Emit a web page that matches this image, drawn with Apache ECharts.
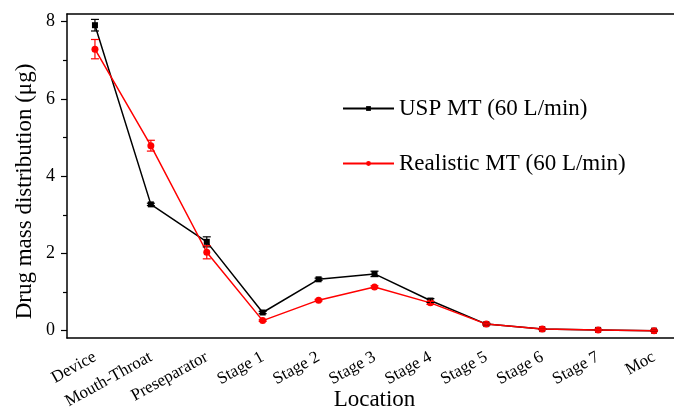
<!DOCTYPE html>
<html>
<head>
<meta charset="utf-8">
<script src="https://cdn.jsdelivr.net/npm/echarts@6/dist/echarts.min.js"></script>
<style>
  html, body { margin: 0; padding: 0; background: #fff; }
  #main { width: 674px; height: 412px; }
</style>
</head>
<body>
<div id="main"></div>
<script>
// categories along the impactor
var locations = ['Device', 'Mouth-Throat', 'Preseparator', 'Stage 1', 'Stage 2', 'Stage 3',
                 'Stage 4', 'Stage 5', 'Stage 6', 'Stage 7', 'Moc'];

// mean deposited mass (ug)
var uspValues = [7.91, 3.27, 2.30, 0.47, 1.33, 1.47, 0.78, 0.17, 0.04, 0.02, 0.00];
var realValues = [7.29, 4.79, 2.03, 0.26, 0.79, 1.13, 0.72, 0.17, 0.04, 0.02, 0.00];

// +/- error (ug)
var uspErr = [0.15, 0.03, 0.13, 0.03, 0.03, 0.07, 0.05, 0.02, 0.01, 0.01, 0.01];
var realErr = [0.25, 0.14, 0.17, 0.02, 0.02, 0.03, 0.04, 0.02, 0.01, 0.01, 0.01];

var yMajor = [0, 2, 4, 6, 8];
var yMinor = [1, 3, 5, 7];

var FONT = '"Liberation Serif", "DejaVu Serif", serif';

function errData(vals, errs) {
    var out = [];
    for (var i = 0; i < vals.length; i++) {
        out.push([i, vals[i] - errs[i], vals[i] + errs[i]]);
    }
    return out;
}

function errRenderer(color) {
    return function (params, api) {
        var lo = api.coord([api.value(0), api.value(1)]);
        var hi = api.coord([api.value(0), api.value(2)]);
        var w = 4;
        var st = { stroke: color, lineWidth: 1.2 };
        return {
            type: 'group',
            children: [
                { type: 'line', shape: { x1: lo[0], y1: lo[1], x2: hi[0], y2: hi[1] }, style: st },
                { type: 'line', shape: { x1: lo[0] - w, y1: lo[1], x2: lo[0] + w, y2: lo[1] }, style: st },
                { type: 'line', shape: { x1: hi[0] - w, y1: hi[1], x2: hi[0] + w, y2: hi[1] }, style: st }
            ]
        };
    };
}

var chart = echarts.init(document.getElementById('main'));
chart.setOption({
    animation: false,
    backgroundColor: '#fff',
    textStyle: { fontFamily: FONT },
    grid: { left: 67, right: -8, top: 14, bottom: 74, outerBoundsMode: 'none', containLabel: false },
    legend: {
        orient: 'vertical',
        left: 342,
        top: 97,
        padding: 0,
        itemWidth: 51,
        itemHeight: 6,
        itemGap: 32,
        textStyle: { fontFamily: FONT, fontSize: 23, color: '#000' },
        data: ['USP MT (60 L/min)', 'Realistic MT (60 L/min)']
    },
    xAxis: [
        {
            type: 'category',
            data: locations,
            boundaryGap: true,
            name: 'Location',
            nameLocation: 'middle',
            nameGap: 50,
            nameMoveOverlap: false,
            nameTextStyle: { fontFamily: FONT, fontSize: 23, color: '#000' },
            axisLine: { onZero: false, lineStyle: { color: '#000', width: 1.5 } },
            axisTick: { alignWithLabel: true, length: 6, lineStyle: { color: '#000', width: 1.2 } },
            axisLabel: { rotate: 29, margin: 18, fontFamily: FONT, fontSize: 17, color: '#000', interval: 0 },
            splitLine: { show: false }
        },
        {
            type: 'category',
            position: 'top',
            data: locations,
            boundaryGap: true,
            axisLine: { onZero: false, lineStyle: { color: '#000', width: 1.5 } },
            axisTick: { alignWithLabel: true, inside: true, length: 3, lineStyle: { color: '#000' } },
            axisLabel: { show: false },
            splitLine: { show: false }
        }
    ],
    yAxis: [
        {
            type: 'value',
            min: -0.19,
            max: 8.2,
            name: 'Drug mass distribution (\u03bcg)',
            nameLocation: 'middle',
            nameGap: 31,
            nameMoveOverlap: false,
            nameTextStyle: { fontFamily: FONT, fontSize: 23, color: '#000', padding: [0, 31, 0, 0] },
            axisLine: { show: true, onZero: false, lineStyle: { color: '#000', width: 1.5 } },
            axisTick: { show: true, length: 6, customValues: yMajor, lineStyle: { color: '#000', width: 1.2 } },
            axisLabel: { customValues: yMajor, margin: 12, fontFamily: FONT, fontSize: 18, color: '#000' },
            splitLine: { show: false }
        },
        {
            type: 'value',
            min: -0.19,
            max: 8.2,
            position: 'left',
            axisLine: { show: false, onZero: false },
            axisTick: { show: true, length: 4, customValues: yMinor, lineStyle: { color: '#000', width: 1.2 } },
            axisLabel: { show: false },
            splitLine: { show: false }
        }
    ],
    series: [
        {
            name: 'USP MT (60 L/min)',
            type: 'line',
            data: uspValues,
            symbol: 'rect',
            symbolSize: 6,
            itemStyle: { color: '#000' },
            lineStyle: { color: '#000', width: 1.5 },
            z: 3
        },
        {
            name: 'Realistic MT (60 L/min)',
            type: 'line',
            data: realValues,
            symbol: 'circle',
            symbolSize: 7,
            itemStyle: { color: '#ff0000' },
            lineStyle: { color: '#ff0000', width: 1.5 },
            z: 4
        },
        {
            type: 'custom',
            name: 'USP err',
            data: errData(uspValues, uspErr),
            renderItem: errRenderer('#000'),
            encode: { x: 0, y: [1, 2] },
            z: 5
        },
        {
            type: 'custom',
            name: 'Real err',
            data: errData(realValues, realErr),
            renderItem: errRenderer('#ff0000'),
            encode: { x: 0, y: [1, 2] },
            z: 5
        }
    ]
});
</script>
</body>
</html>
